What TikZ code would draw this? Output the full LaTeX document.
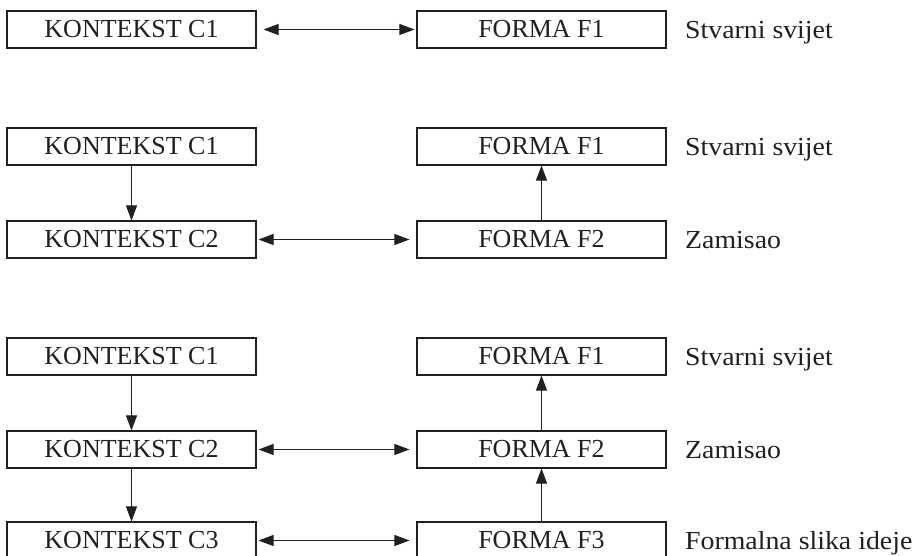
\documentclass[tikz,border=0pt]{standalone}
\usepackage{fontspec}
\setmainfont{Liberation Serif}
\newfontfamily\labfont[FakeStretch=1.07]{Liberation Serif}
\usetikzlibrary{arrows.meta}
\definecolor{ink}{HTML}{231F20}
\begin{document}
\begin{tikzpicture}[x=1pt,y=-1pt,
  box/.style={draw=ink, line width=1.1pt, minimum width=249pt, minimum height=37pt, inner sep=0pt, font=\fontsize{26}{30}\selectfont, text=ink},
  lab/.style={anchor=base west, inner sep=0pt, font=\labfont\fontsize{26}{30}\selectfont, text=ink},
  tip/.tip={Triangle[length=15pt,width=11pt]},
  arr/.style={draw=ink, line width=1pt, -tip},
  darr/.style={draw=ink, line width=1pt, tip-tip}]
\useasboundingbox (0,0) rectangle (917,556);
% group 1
\node[box] (a1) at (131.5,29.5) {KONTEKST C1};
\node[box] (b1) at (541.5,29.5) {FORMA F1};
\node[lab] (l1) at (685,38.1) {Stvarni svijet};
\draw[darr, shorten <=7pt, shorten >=2pt] (a1.east) -- (b1.west);
% group 2
\node[box] (a2) at (131.5,146.5) {KONTEKST C1};
\node[box] (a3) at (131.5,239.5) {KONTEKST C2};
\node[box] (b2) at (541.5,146.5) {FORMA F1};
\node[box] (b3) at (541.5,239.5) {FORMA F2};
\node[lab] (l2) at (685,155.1) {Stvarni svijet};
\node[lab] (l3) at (685,248.1) {Zamisao};
\draw[arr] (a2.south) -- (a3.north);
\draw[arr] (b3.north) -- (b2.south);
\draw[darr, shorten <=2pt, shorten >=7pt] (a3.east) -- (b3.west);
% group 3
\node[box] (a4) at (131.5,356.5) {KONTEKST C1};
\node[box] (a5) at (131.5,449.5) {KONTEKST C2};
\node[box] (a6) at (131.5,540.5) {KONTEKST C3};
\node[box] (b4) at (541.5,356.5) {FORMA F1};
\node[box] (b5) at (541.5,449.5) {FORMA F2};
\node[box] (b6) at (541.5,540.5) {FORMA F3};
\node[lab] (l4) at (685,365.1) {Stvarni svijet};
\node[lab] (l5) at (685,458.1) {Zamisao};
\node[lab] (l6) at (685,549.1) {Formalna slika ideje};
\draw[arr] (a4.south) -- (a5.north);
\draw[arr] (a5.south) -- (a6.north);
\draw[arr] (b5.north) -- (b4.south);
\draw[arr] (b6.north) -- (b5.south);
\draw[darr, shorten <=2pt, shorten >=7pt] (a5.east) -- (b5.west);
\draw[darr, shorten <=2pt, shorten >=7pt] (a6.east) -- (b6.west);
\end{tikzpicture}
\end{document}
